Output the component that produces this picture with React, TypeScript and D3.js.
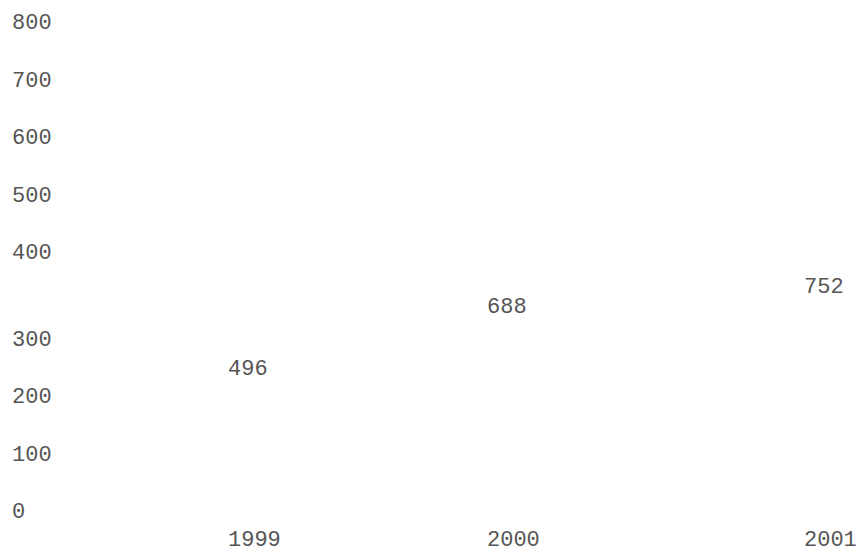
import { useEffect, useRef } from 'react';
import * as d3 from 'd3';

// data
const years = ['1999', '2000', '2001'];
const values = [496, 688, 752];
const yTicks = [0, 100, 200, 300, 400, 500, 600, 700, 800];

function App() {
  const svgRef = useRef<SVGSVGElement>(null);

  useEffect(() => {
    const width = 860;
    const height = 548;
    const font = '"Liberation Mono", "Courier New", monospace';
    const color = '#555';

    const svg = d3.select(svgRef.current)
      .attr('width', width)
      .attr('height', height);
    svg.selectAll('*').remove();

    // tick labels: the column breaks between 300 and 400
    const yAxis = d3.scaleLinear()
      .domain([0, 300, 400, 800])
      .range([518, 346, 259, 29]);

    // x positions of the year columns
    const x = d3.scaleLinear()
      .domain([0, 1, 2])
      .range([228, 487, 804]);

    // value labels
    const y = d3.scaleLinear()
      .domain([0, 800])
      .range([536, 277]);

    svg.append('g')
      .selectAll('text')
      .data(yTicks)
      .join('text')
      .attr('x', 12)
      .attr('y', d => yAxis(d))
      .attr('font-family', font)
      .attr('font-size', 22)
      .attr('font-weight', 300)
      .attr('fill', color)
      .text(d => d);

    svg.append('g')
      .selectAll('text')
      .data(values)
      .join('text')
      .attr('x', (d, i) => x(i))
      .attr('y', d => y(d))
      .attr('font-family', font)
      .attr('font-size', 22)
      .attr('font-weight', 300)
      .attr('fill', color)
      .text(d => d);

    svg.append('g')
      .selectAll('text')
      .data(years)
      .join('text')
      .attr('x', (d, i) => x(i))
      .attr('y', 546)
      .attr('font-family', font)
      .attr('font-size', 22)
      .attr('font-weight', 300)
      .attr('fill', color)
      .text(d => d);
  }, []);

  return (
    <div>
      <svg ref={svgRef} style={{ position: 'absolute', left: 0, top: 0 }}></svg>
    </div>
  );
}

export default App;
